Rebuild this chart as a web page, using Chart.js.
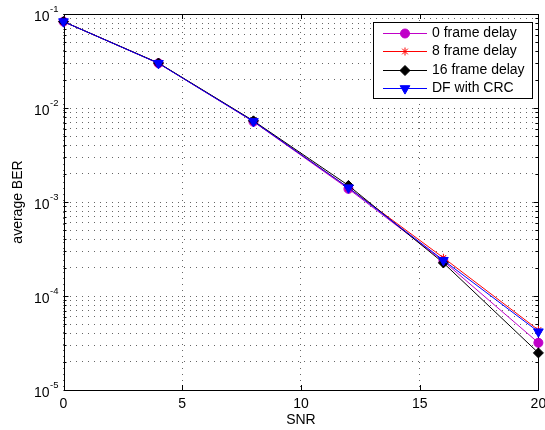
<!DOCTYPE html>
<html>
<head>
<meta charset="utf-8">
<style>
  html, body { margin: 0; padding: 0; background: #fff; }
  #wrap { width: 545px; height: 430px; }
</style>
<script src="https://cdn.jsdelivr.net/npm/chart.js@4"></script>
</head>
<body>
<div id="wrap"><canvas id="c" width="545" height="430"></canvas></div>
<script>
// ---- data ----
const snr = [0, 4, 8, 12, 16, 20];
const delay0 = [0.083, 0.0299, 0.00715, 1.38e-3, 2.35e-4, 3.18e-5];
const delay8 = [0.083, 0.0300, 0.00725, 1.42e-3, 2.55e-4, 4.35e-5];
const delay16 = [0.083, 0.0301, 0.0073, 1.50e-3, 2.25e-4, 2.48e-5];
const dfCrc = [0.083, 0.0299, 0.0072, 1.42e-3, 2.40e-4, 4.17e-5];
const seriesLabels = ['0 frame delay', '8 frame delay', '16 frame delay', 'DF with CRC'];
const xTicks = [0, 5, 10, 15, 20];
const yMajorExps = [-5, -4, -3, -2, -1];
const yMinorMult = [2, 3, 4, 5, 6, 7, 8, 9];

const FONT = '"Liberation Sans", Arial, Helvetica, sans-serif';
const MAG = '#c000c8', RED = '#ff0000', BLK = '#000000', BLU = '#0000ff';

function pts(arr) { return snr.map((x, i) => ({ x: x, y: arr[i] })); }

const styles = [
  { color: MAG, pointStyle: 'circle', radius: 4.5, rotation: 0 },
  { color: RED, pointStyle: 'star', radius: 4, rotation: 0 },
  { color: BLK, pointStyle: 'rectRot', radius: 5, rotation: 0 },
  { color: BLU, pointStyle: 'triangle', radius: 5.6, rotation: 180 }
];
const seriesData = [delay0, delay8, delay16, dfCrc];

const datasets = seriesData.map((d, i) => ({
  label: seriesLabels[i],
  data: pts(d),
  borderColor: styles[i].color,
  backgroundColor: styles[i].color,
  pointBackgroundColor: styles[i].color,
  pointBorderColor: styles[i].color,
  pointStyle: styles[i].pointStyle,
  pointRadius: styles[i].radius,
  pointRotation: styles[i].rotation,
  pointBorderWidth: 1,
  borderWidth: 1,
  tension: 0,
  fill: false,
  clip: false,
  order: 3 - i
}));

const yTickValues = [];
yMajorExps.forEach(e => {
  yTickValues.push(Math.pow(10, e));
  if (e < -1) yMinorMult.forEach(m => yTickValues.push(m * Math.pow(10, e)));
});

const decor = {
  id: 'decor',
  beforeDatasetsDraw(chart) {
    const { ctx, chartArea: a, scales: { x, y } } = chart;
    ctx.save();
    ctx.strokeStyle = '#000';
    ctx.lineWidth = 1;
    ctx.beginPath();
    xTicks.forEach(v => {
      const px = Math.round(x.getPixelForValue(v)) + 0.5;
      ctx.moveTo(px, a.bottom); ctx.lineTo(px, a.bottom - 5);
      ctx.moveTo(px, a.top); ctx.lineTo(px, a.top + 5);
    });
    yTickValues.forEach(v => {
      const py = Math.round(y.getPixelForValue(v)) + 0.5;
      const major = Math.abs(Math.log10(v) - Math.round(Math.log10(v))) < 1e-9;
      const len = major ? 5 : 3;
      ctx.moveTo(a.left, py); ctx.lineTo(a.left + len, py);
      ctx.moveTo(a.right, py); ctx.lineTo(a.right - len, py);
    });
    ctx.stroke();
    ctx.strokeRect(Math.round(a.left) + 0.5, Math.round(a.top) + 0.5,
      Math.round(a.right) - Math.round(a.left), Math.round(a.bottom) - Math.round(a.top));
    ctx.restore();
  },
  afterDraw(chart) {
    const { ctx, chartArea: a, scales: { x, y } } = chart;
    ctx.save();
    ctx.fillStyle = '#000';
    ctx.font = '14px ' + FONT;
    ctx.textAlign = 'center';
    ctx.textBaseline = 'middle';
    xTicks.forEach(v => {
      ctx.fillText(String(v), x.getPixelForValue(v), a.bottom + 14);
    });
    yMajorExps.forEach(e => {
      const py = y.getPixelForValue(Math.pow(10, e));
      const expStr = '-' + String(-e);
      ctx.font = '9.5px ' + FONT;
      const ew = ctx.measureText(expStr).width;
      ctx.textAlign = 'right';
      ctx.textBaseline = 'middle';
      ctx.fillText(expStr, a.left - 5, py - 5);
      ctx.font = '14px ' + FONT;
      ctx.fillText('10', a.left - 5 - ew - 0.5, py + 3);
    });
    ctx.font = '14px ' + FONT;
    ctx.textAlign = 'center';
    ctx.textBaseline = 'middle';
    ctx.fillText('SNR', (a.left + a.right) / 2, a.bottom + 30);
    ctx.save();
    ctx.translate(18, (a.top + a.bottom) / 2);
    ctx.rotate(-Math.PI / 2);
    ctx.fillText('average BER', 0, 0);
    ctx.restore();
    // legend
    const lx = 373.5, ly = 22.5, lw = 159, lh = 76;
    ctx.fillStyle = '#fff';
    ctx.fillRect(lx, ly, lw, lh);
    ctx.strokeStyle = '#000';
    ctx.lineWidth = 1;
    ctx.strokeRect(lx, ly, lw, lh);
    ctx.font = '14px ' + FONT;
    ctx.textAlign = 'left';
    ctx.textBaseline = 'middle';
    seriesLabels.forEach((lab, i) => {
      const ry = Math.round(33 + i * 18.4) + 0.5;
      const st = styles[i];
      ctx.strokeStyle = st.color;
      ctx.fillStyle = st.color;
      ctx.lineWidth = 1;
      ctx.beginPath();
      ctx.moveTo(383, ry); ctx.lineTo(427, ry);
      ctx.stroke();
      Chart.helpers.drawPoint(ctx, { pointStyle: st.pointStyle, radius: st.radius, rotation: st.rotation, borderWidth: 1 }, 405, ry);
      ctx.fillStyle = '#000';
      ctx.fillText(lab, 432, ry);
    });
    ctx.restore();
  }
};

new Chart(document.getElementById('c'), {
  type: 'line',
  data: { datasets: datasets },
  options: {
    responsive: false,
    animation: false,
    devicePixelRatio: 1,
    events: [],
    layout: { padding: { left: 0, right: 4, top: 14, bottom: 0 } },
    plugins: { legend: { display: false }, tooltip: { enabled: false } },
    scales: {
      x: {
        type: 'linear', min: 0, max: 20,
        afterBuildTicks: s => { s.ticks = xTicks.map(v => ({ value: v })); },
        afterFit: s => { s.height = 40; },
        ticks: { display: false },
        grid: { color: '#666', lineWidth: 1, drawTicks: false },
        border: { display: false, dash: [1, 5] }
      },
      y: {
        type: 'logarithmic', min: 1e-5, max: 1e-1,
        afterBuildTicks: s => { s.ticks = yTickValues.map(v => ({ value: v })); },
        afterFit: s => { s.width = 63.5; },
        ticks: { display: false, autoSkip: false },
        grid: { color: '#666', lineWidth: 1, drawTicks: false },
        border: { display: false, dash: [1, 5] }
      }
    }
  },
  plugins: [decor]
});
</script>
</body>
</html>
